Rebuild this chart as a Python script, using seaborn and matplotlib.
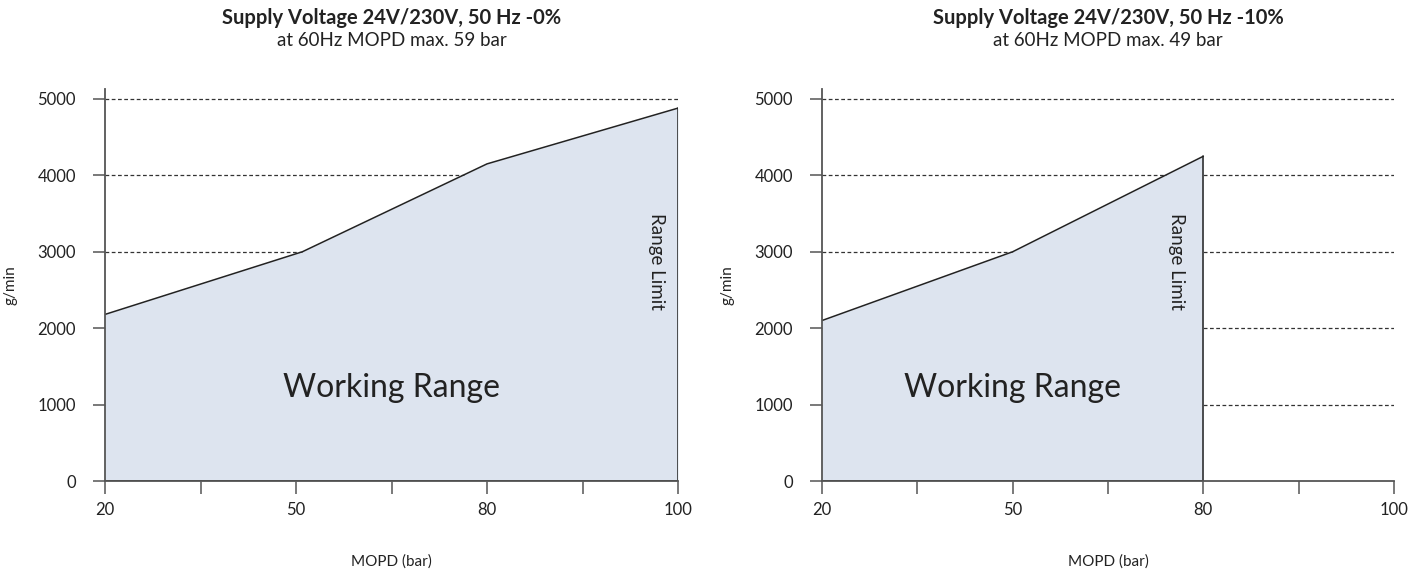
import numpy as np
import pandas as pd
import matplotlib
matplotlib.use('Agg')
import matplotlib.pyplot as plt
import seaborn as sns

# values
tick_bar = [20, 35, 50, 65, 80, 90, 100]
label_bar = [20, 50, 80, 100]
y_ticks = [0, 1000, 2000, 3000, 4000, 5000]

left_mopd = [20, 51, 80, 100]
left_flow = [2180, 3000, 4150, 4880]
right_mopd = [20, 50, 80]
right_flow = [2100, 3000, 4250]

titles = ['Supply Voltage 24V/230V, 50 Hz -0%', 'Supply Voltage 24V/230V, 50 Hz -10%']
subtitles = ['at 60Hz MOPD max. 59 bar', 'at 60Hz MOPD max. 49 bar']
working_pos = [65, 50]
limit_pos = [97.8, 75.8]

sns.set_theme(style='white')
plt.rcParams['font.family'] = ['Lato', 'DejaVu Sans']

# the x axis is evenly spaced per tick, not linear in bar
tick_pos = np.arange(len(tick_bar))
def fwd(v):
    return np.interp(v, tick_bar, tick_pos)
def inv(v):
    return np.interp(v, tick_pos, tick_bar)

fill_col = '#dde4ef'
spine_col = '#555555'

fig = plt.figure(figsize=(14.22, 5.72), dpi=100)
ax1 = fig.add_axes([105/1422, 1-481/572, 573/1422, 392/572])
ax2 = fig.add_axes([822/1422, 1-481/572, 572/1422, 392/572])

data = [(left_mopd, left_flow), (right_mopd, right_flow)]
for i, ax in enumerate([ax1, ax2]):
    mopd, flow = data[i]
    df = pd.DataFrame({'mopd': mopd, 'flow': flow})
    ax.set_xscale('function', functions=(fwd, inv))
    ax.set_xlim(20, 100)
    ax.set_ylim(0, 5130)

    for yv in y_ticks[1:]:
        ax.axhline(yv, color='#333333', lw=0.9, ls=(0, (3, 2)), zorder=1)

    ax.fill_between(df['mopd'], df['flow'], 0, color=fill_col, lw=0, zorder=2)
    sns.lineplot(data=df, x='mopd', y='flow', color='#222222', lw=1.1, ax=ax, zorder=3)
    ax.plot([mopd[-1], mopd[-1]], [flow[-1], 0], color='#222222', lw=1.1, zorder=3)
    ax.plot([mopd[0], mopd[-1]], [0, 0], color='#222222', lw=1.4, zorder=3)

    ax.set_xticks(label_bar)
    ax.set_xticklabels([str(v) for v in label_bar])
    ax.set_xticks([35, 65, 90], minor=True)
    ax.set_yticks(y_ticks)
    ax.set_yticklabels([str(v) for v in y_ticks])
    ax.tick_params(axis='both', which='both', direction='out', length=9, width=1.1,
                   color=spine_col, labelsize=12, labelcolor='#222222',
                   bottom=True, left=True)
    ax.tick_params(axis='x', which='major', pad=6)
    ax.tick_params(axis='y', pad=12)

    for s in ['top', 'right']:
        ax.spines[s].set_visible(False)
    for s in ['left', 'bottom']:
        ax.spines[s].set_color(spine_col)
        ax.spines[s].set_linewidth(1.3)
        ax.spines[s].set_zorder(4)

    ax.set_xlabel('MOPD (bar)', fontsize=11, color='#222222', labelpad=26)
    ax.set_ylabel('g/min', fontsize=11, color='#222222', labelpad=14)

    ax.text(working_pos[i], 1220, 'Working Range', fontsize=23, color='#222222',
            ha='center', va='center', zorder=5)
    ax.text(limit_pos[i], 2870, 'Range Limit', fontsize=13.5, color='#222222',
            rotation=-90, ha='center', va='center', zorder=5)

    ax.text(0.5, 1.18, titles[i], transform=ax.transAxes, fontsize=14.5,
            fontweight='bold', ha='center', va='center', color='#222222')
    ax.text(0.5, 1.124, subtitles[i], transform=ax.transAxes, fontsize=13.5,
            ha='center', va='center', color='#222222')

fig.savefig('out.png', dpi=100)
